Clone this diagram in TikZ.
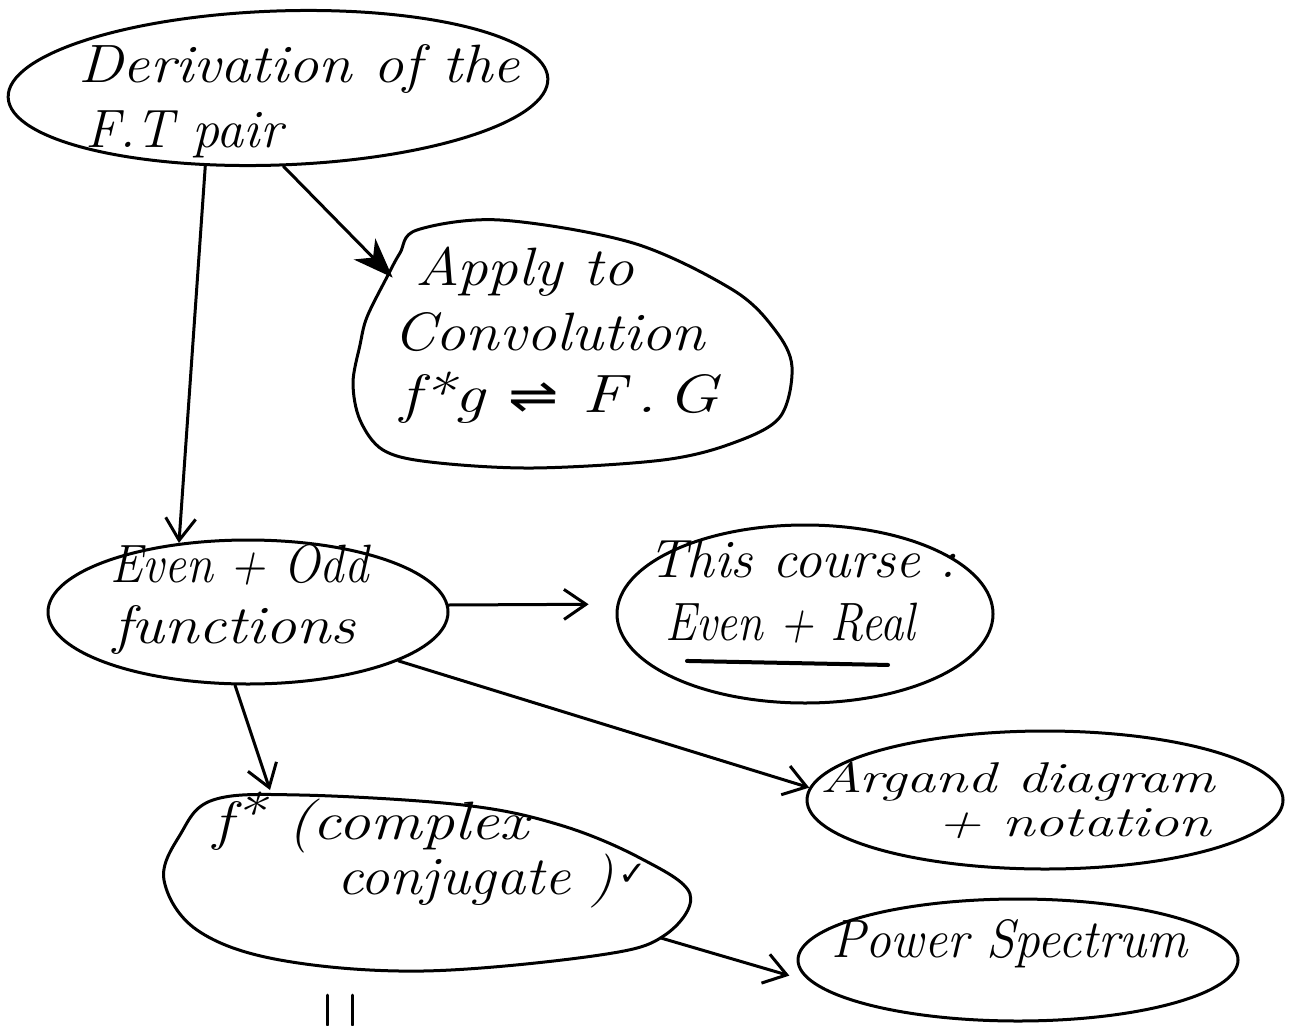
\documentclass[tikz,border=0pt]{standalone}
\usepackage{graphicx}
\usepackage{fontspec}
\newfontfamily\dejavu{DejaVu Sans}
\usetikzlibrary{shapes.geometric,arrows.meta,calc}
\newcommand\hstretch[2]{\scalebox{#1}[1]{#2}}
\tikzset{
  pen/.style={line width=3pt, line cap=round, line join=round},
  blob/.style={pen, draw, ellipse, inner sep=0pt},
  anchorblob/.style={ellipse, inner sep=0pt},
  hand/.style={font=\fontsize{54}{60}\selectfont\itshape, inner sep=0pt, anchor=base west},
  handsmall/.style={font=\fontsize{43}{48}\selectfont\itshape, inner sep=0pt, anchor=base west},
  conn/.style={pen, -{Straight Barb[length=22pt,width=30pt,line width=3pt]}},
  heavy/.style={pen, -{Stealth[length=40pt,width=30pt,inset=12pt]}},
}
\begin{document}
\begin{tikzpicture}[x=1pt,y=-1pt]
\useasboundingbox (0,0) rectangle (1289,1025);
% blobs
\node[blob, minimum width=540pt, minimum height=154pt, rotate=2] (A) at (278,88) {};
\node[anchorblob, minimum width=430pt, minimum height=240pt] (B) at (567,348) {};
\draw[pen, shift={(B.center)}] plot[smooth cycle, tension=0.55] coordinates {
  (-150,-118) (-67,-128) (66,-105) (166,-58) (208,-18) (225,19) (213,69)
  (166,95) (96,112) (-34,120) (-137,114) (-184,102) (-207,72) (-214,35)
  (-207,-3) (-200,-31) (-180,-71) (-167,-95)};
\node[blob, minimum width=400pt, minimum height=144pt] (C) at (248,612) {};
\node[blob, minimum width=376pt, minimum height=178pt] (D) at (805,614) {};
\node[blob, minimum width=476pt, minimum height=138pt] (E) at (1045,800) {};
\node[anchorblob, minimum width=526pt, minimum height=174pt, rotate=-4] (F) at (427,884) {};
\draw[pen, shift={(F.center)}] plot[smooth cycle, tension=0.6] coordinates {
  (-263,-4) (-247,-49) (-214,-84) (-127,-89) (36,-79) (133,-59) (213,-26)
  (263,10) (238,51) (173,71) (-4,87) (-147,76) (-230,46)};
\coordinate (Fin) at (270,790);
\node[blob, minimum width=440pt, minimum height=122pt] (G) at (1018,960) {};
% texts
\node[hand] (a1) at (78,82) {\hstretch{1.12}{Derivation of the}};
\node[hand] (a2) at (85,147) {F.T pair};
\node[hand] (b1) at (415,285) {\hstretch{1.13}{Apply to}};
\node[hand] (b2) at (393,350) {\hstretch{1.12}{Convolution}};
\node[hand] (b3) at (400,412) {\hstretch{1.25}{f*g {\dejavu\fontsize{48}{48}\selectfont ⇌} F\,.\,G}};
\node[hand] (c1) at (110,582) {\hstretch{0.9}{Even + Odd}};
\node[hand] (c2) at (113,643) {\hstretch{1.15}{functions}};
\node[hand] (d1) at (648,577) {\hstretch{1.02}{This course :}};
\node[hand] (d2) at (665,640) {\hstretch{0.86}{Even + Real}};
\draw[line width=4pt, line cap=round] (d2.south west) ++(22,18) coordinate (u1) -- ++(201,4) coordinate (u2);
\node[handsmall] (e1) at (820,792) {\hstretch{1.35}{Argand diagram}};
\node[handsmall] (e2) at (937,836) {\hstretch{1.37}{+ notation}};
\node[hand] (f1) at (213,839) {\hstretch{1.19}{f\raisebox{0.12em}{*} (complex}};
\node[hand] (f2) at (337,894) {\hstretch{1.08}{conjugate )}};
\node[font=\dejavu\bfseries\fontsize{34}{34}\selectfont, inner sep=0pt, anchor=base west] (tick) at (618,885) {✓};
\node[hand] (g1) at (831,957) {\hstretch{0.95}{Power Spectrum}};
% connectors
\draw[conn] (A.225) -- (C.135);
\draw[heavy] (A.272) -- (B.158);
\draw[conn, shorten >=28pt] (C.2) -- (D.177);
\draw[conn] (C.342) -- (E.177);
\draw[conn] (C.260) -- (Fin);
\draw[conn, shorten >=22pt] (F.351) -- (G.186);
% marks at the foot
\draw[pen] (327,995) -- (327,1025);
\draw[pen] (352,995) -- (352,1025);
\end{tikzpicture}
\end{document}
